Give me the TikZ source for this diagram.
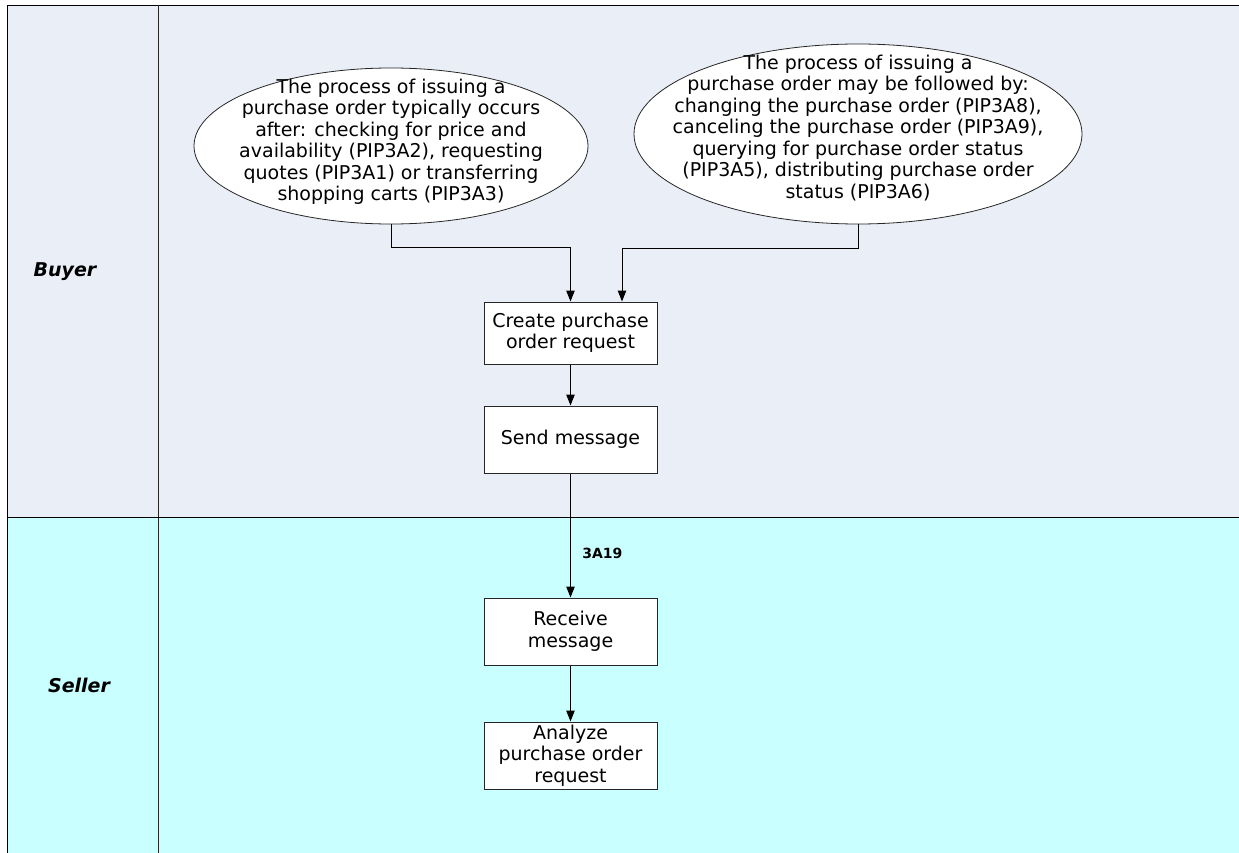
\documentclass[tikz,border=0pt]{standalone}
\usepackage{fontspec}
\setmainfont{DejaVu Sans}
\usetikzlibrary{arrows.meta}
\usetikzlibrary{positioning}
\usetikzlibrary{shapes.geometric}
\usepackage{xcolor}
\definecolor{buyerlane}{HTML}{EAEFF7}
\definecolor{sellerlane}{HTML}{C9FFFF}
\definecolor{edgegrey}{HTML}{262626}

\begin{document}
\begin{tikzpicture}[
        x=1pt, y=-1pt,
        node distance=41pt,
        activity/.style={rectangle, draw=edgegrey, fill=white, line width=1pt,
          minimum width=173pt, minimum height=67pt, inner sep=1pt,
          align=center, font=\fontsize{19}{21.5}\selectfont},
        bubble/.style={ellipse, draw=edgegrey, fill=white, line width=0.8pt,
          inner sep=0pt},
        bubbletext/.style={align=center, inner sep=0pt,
          font=\fontsize{19}{21.5}\selectfont},
        lane/.style={font=\fontsize{19}{22}\selectfont\bfseries\itshape},
        arrow/.style={-{Triangle[length=11pt, width=8.5pt]}, line width=1pt, draw=black},
        msg/.style={font=\fontsize{14}{16}\selectfont\bfseries},
      ]
      \useasboundingbox (0,0) rectangle (1239,853);

      % Lanes
      \fill[buyerlane] (7,5) rectangle (1239,517);
      \fill[sellerlane] (7,517) rectangle (1239,853);
      \draw[line width=0.9pt] (1239,5) -- (7,5) -- (7,853);
      \draw[line width=0.9pt, draw=edgegrey] (158,5) -- (158,853);
      \draw[line width=0.9pt] (7,517) -- (1239,517);
      \node[lane] (buyer) at (65,272) {Buyer};
      \node[lane] (seller) at (79,685) {Seller};

      % Notes
      \node[bubble, minimum width=394pt, minimum height=156pt] (before) at (391,146) {};
      \node[bubbletext] (beforetext) at (391,142) {The process of issuing a\\
        purchase order typically occurs\\
        after: checking for price and\\
        availability (PIP3A2), requesting\\
        quotes (PIP3A1) or transferring\\
        shopping carts (PIP3A3)};
      \node[bubble, minimum width=448pt, minimum height=180pt] (after) at (858,134) {};
      \node[bubbletext] (aftertext) at (858,128) {The process of issuing a\\
        purchase order may be followed by:\\
        changing the purchase order (PIP3A8),\\
        canceling the purchase order (PIP3A9),\\
        querying for purchase order status\\
        (PIP3A5), distributing purchase order\\
        status (PIP3A6)};

      % Buyer steps
      \node[activity, minimum height=62pt] (create) at (570.5,333) {Create purchase\\order request};
      \node[activity, below=of create] (send) {Send message};

      % Seller steps
      \node[activity, below=124pt of send] (receive) {Receive\\message};
      \node[activity, below=56pt of receive] (analyze) {Analyze\\purchase order\\request};

      % Arrows
      \draw[arrow] (before.south) -- ++(0,23) -| (create.north);
      \draw[arrow] (after.south) -- ++(0,24) -| ([xshift=51.5pt]create.north);
      \draw[arrow] (create) -- (send);
      \draw[arrow] (send) -- node[msg, right, pos=0.645, xshift=8pt] (pip) {3A19} (receive);
      \draw[arrow] (receive) -- (analyze);

      \end{tikzpicture}
\end{document}
